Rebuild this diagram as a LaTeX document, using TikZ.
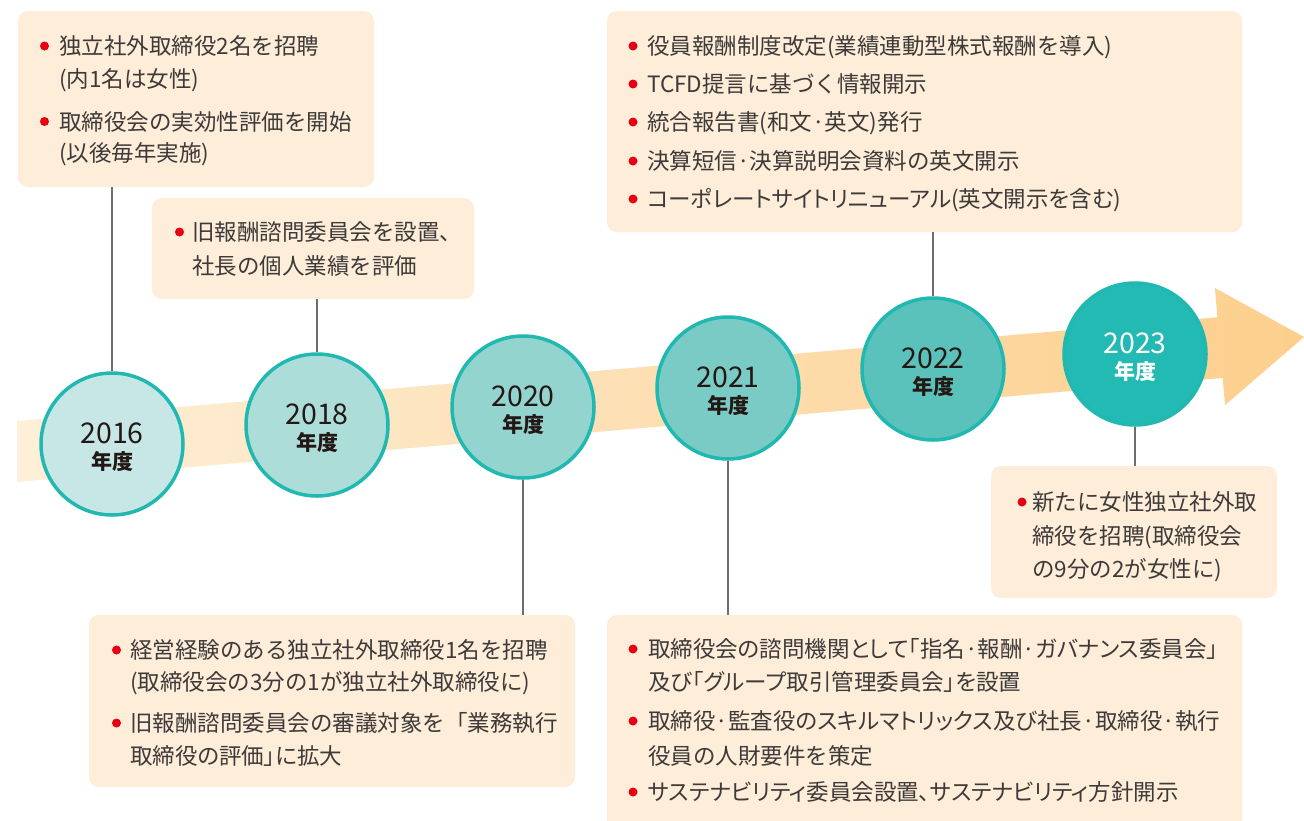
\documentclass[tikz,border=0pt]{standalone}
\usepackage{fontspec}
\setmainfont{Noto Sans CJK JP}
\newfontfamily\paltfont[RawFeature=+palt]{Noto Sans CJK JP}
\usetikzlibrary{calc}
\definecolor{boxfill}{HTML}{FDEDD9}
\definecolor{txtcol}{HTML}{3E3A39}
\definecolor{numcol}{HTML}{231815}
\definecolor{ring}{HTML}{20B8B0}
\definecolor{conncol}{HTML}{6E6E6E}
\definecolor{bulred}{HTML}{E60012}
\definecolor{bandL}{HTML}{FEEFD8}
\definecolor{bandR}{HTML}{FCCF8C}
\definecolor{y16}{HTML}{C6E7E5}
\definecolor{y18}{HTML}{ADDDD9}
\definecolor{y20}{HTML}{94D4CF}
\definecolor{y21}{HTML}{7ACBC5}
\definecolor{y22}{HTML}{5AC2BB}
\definecolor{y23}{HTML}{22BAB2}
\newcommand\tline[4]{\node[txt] (#1) at (#2,#3+8.5) {#4};}
\newcommand\tlinep[4]{\node[txt, font=\fontsize{22.5}{27}\paltfont] (#1) at (#2,#3+8.5) {#4};}
\newcommand\bdot[2]{\fill[bul] (#1,#2) circle (4.5);}
\begin{document}
\begin{tikzpicture}[x=1pt,y=-1pt,
  box/.style={fill=boxfill, rounded corners=10pt, draw=none, inner sep=0pt, rectangle},
  txt/.style={anchor=base west, inner sep=0pt, text=txtcol, font=\fontsize{22.5}{27}\selectfont},
  yr/.style={circle, draw=ring, line width=3.5pt, minimum size=142pt, inner sep=0pt},
  num/.style={anchor=base, inner sep=0pt, font=\fontsize{28.5}{30}\selectfont, text=numcol},
  nen/.style={anchor=base, inner sep=0pt, font=\fontsize{21}{24}\selectfont\bfseries, text=numcol},
  conn/.style={draw=conncol, line width=1.3pt},
  bul/.style={fill=bulred}]
\useasboundingbox (0,0) rectangle (1304,820);
\clip (0,0) rectangle (1304,820);
\fill[white] (0,0) rectangle (1304,820);
% band arrow
\shade[left color=bandL, right color=bandR]
  (17,421) -- (1217.4,317.3) -- (1214.9,288) -- (1304,337)
  -- (1225.1,405) -- (1222.6,377.9) -- (17,482) -- cycle;
% boxes
\node[box, minimum width=356, minimum height=176] (b16) at (196,99) {};
\node[box, minimum width=322, minimum height=101] (b18) at (313,248.5) {};
\node[box, minimum width=635, minimum height=221] (b22) at (924.5,121.5) {};
\node[box, minimum width=486, minimum height=172] (b20) at (332,701) {};
\node[box, minimum width=635, minimum height=225] (b21) at (924.5,727.5) {};
\node[box, minimum width=286, minimum height=132] (b23) at (1134,532) {};
% circles
\node[yr, fill=y16] (c16) at (112,444) {};
\node[yr, fill=y18] (c18) at (317,425) {};
\node[yr, fill=y20] (c20) at (523,407) {};
\node[yr, fill=y21] (c21) at (728,388) {};
\node[yr, fill=y22] (c22) at (933,369) {};
\node[yr, fill=y23] (c23) at (1135,354) {};
% connectors
\draw[conn] (b16.south -| c16.north) -- (c16.north);
\draw[conn] (b18.south -| c18.north) -- (c18.north);
\draw[conn] (c20.south) -- (b20.north -| c20.south);
\draw[conn] (c21.south) -- (b21.north -| c21.south);
\draw[conn] (b22.south -| c22.north) -- (c22.north);
\draw[conn] (c23.south) -- (b23.north -| c23.south);
% year labels
\node[num] (n16) at ($(c16)+(0,-1)$) {2016};
\node[nen] (k16) at ($(c16)+(0,25)$) {年度};
\node[num] (n18) at ($(c18)+(0,-1)$) {2018};
\node[nen] (k18) at ($(c18)+(0,25)$) {年度};
\node[num] (n20) at ($(c20)+(0,-1)$) {2020};
\node[nen] (k20) at ($(c20)+(0,25)$) {年度};
\node[num] (n21) at ($(c21)+(0,-1)$) {2021};
\node[nen] (k21) at ($(c21)+(0,25)$) {年度};
\node[num] (n22) at ($(c22)+(0,-1)$) {2022};
\node[nen] (k22) at ($(c22)+(0,25)$) {年度};
\node[num, text=white] (n23) at ($(c23)+(0,-1)$) {2023};
\node[nen, text=white] (k23) at ($(c23)+(0,25)$) {年度};
% box 2016
\bdot{44.5}{46}
\tline{t16a}{59}{46}{独立社外取締役2名を招聘}
\tline{t16b}{59}{79}{(内1名は女性)}
\bdot{44.5}{121.5}
\tline{t16c}{59}{121.5}{取締役会の実効性評価を開始}
\tline{t16d}{59}{153}{(以後毎年実施)}
% box 2018
\bdot{179.5}{232}
\tline{t18a}{192}{232}{旧報酬諮問委員会を設置、}
\tline{t18b}{192}{266}{社長の個人業績を評価}
% box 2022
\bdot{633}{46}
\tline{t22a}{647}{46}{役員報酬制度改定(業績連動型株式報酬を導入)}
\bdot{633}{84}
\tline{t22b}{647}{84}{TCFD提言に基づく情報開示}
\bdot{633}{122}
\tline{t22c}{647}{122}{統合報告書(和文·英文)発行}
\bdot{633}{161}
\tline{t22d}{647}{161}{決算短信·決算説明会資料の英文開示}
\bdot{633}{199}
\tlinep{t22e}{647}{199}{コーポレートサイトリニューアル(英文開示を含む)}
% box 2020
\bdot{116.5}{650}
\tline{t20a}{130}{650}{経営経験のある独立社外取締役1名を招聘}
\tline{t20b}{130}{682}{(取締役会の3分の1が独立社外取締役に)}
\bdot{116.5}{723}
\tline{t20c}{130}{723}{旧報酬諮問委員会の審議対象を「業務執行}
\tlinep{t20d}{130}{756}{取締役の評価」に拡大}
% box 2021
\bdot{633}{649}
\tlinep{t21a}{648}{649}{取締役会の諮問機関として「指名·報酬·ガバナンス委員会」}
\tlinep{t21b}{648}{682}{及び「グループ取引管理委員会」を設置}
\bdot{633}{721}
\tlinep{t21c}{648}{721}{取締役·監査役のスキルマトリックス及び社長·取締役·執行}
\tline{t21d}{648}{756}{役員の人財要件を策定}
\bdot{633}{792}
\tlinep{t21e}{648}{792}{サステナビリティ委員会設置、サステナビリティ方針開示}
% box 2023
\bdot{1022}{502}
\tline{t23a}{1032}{502}{新たに女性独立社外取}
\tline{t23b}{1032}{536}{締役を招聘(取締役会}
\tline{t23c}{1032}{569}{の9分の2が女性に)}
\end{tikzpicture}
\end{document}
